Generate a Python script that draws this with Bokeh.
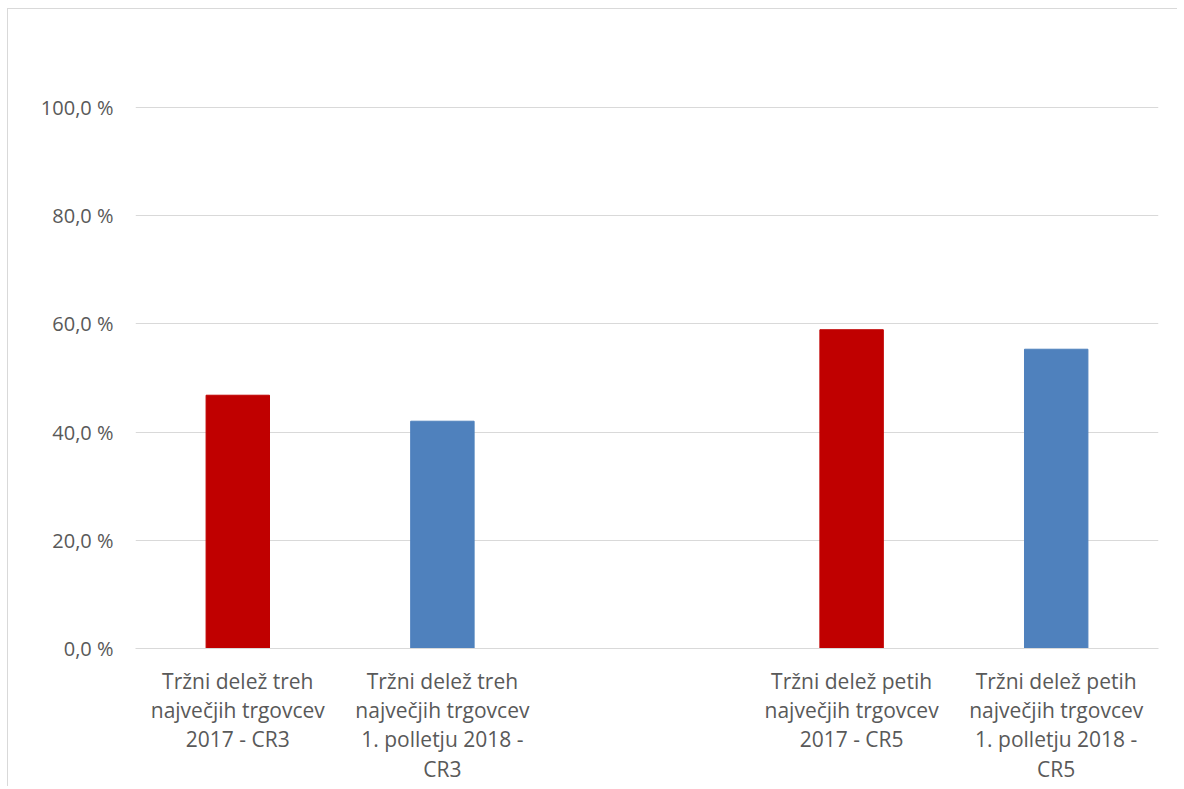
from bokeh.plotting import figure
from bokeh.models import FixedTicker, Range1d, FactorRange
from bokeh.embed import file_html
from bokeh.resources import INLINE

categories = [
    "Tržni delež treh\nnajvečjih trgovcev\n2017 - CR3",
    "Tržni delež treh\nnajvečjih trgovcev\n1. polletju 2018 -\nCR3",
    " ",
    "Tržni delež petih\nnajvečjih trgovcev\n2017 - CR5",
    "Tržni delež petih\nnajvečjih trgovcev\n1. polletju 2018 -\nCR5",
]
bar_categories = [categories[0], categories[1], categories[3], categories[4]]
values = [46.8, 42.0, 58.9, 55.3]
bar_colors = ["#C00000", "#4F81BD", "#C00000", "#4F81BD"]
y_ticks = [0, 20, 40, 60, 80, 100]
y_tick_labels = ["0,0 %", "20,0 %", "40,0 %", "60,0 %", "80,0 %", "100,0 %"]

p = figure(
    x_range=FactorRange(*categories, range_padding=0),
    y_range=Range1d(0, 102),
    width=1170, height=778,
    output_backend="svg", toolbar_location=None,
    min_border_left=127, min_border_right=20, min_border_top=87, min_border_bottom=139,
)
p.styles = {
    "margin-left": "7px", "margin-top": "8px",
    "border-left": "1px solid #D9D9D9", "border-top": "1px solid #D9D9D9",
}
p.outline_line_color = None
p.background_fill_color = "white"
p.border_fill_color = "white"

p.vbar(x=bar_categories, top=values, width=0.31, color=bar_colors)

p.xgrid.grid_line_color = None
p.ygrid.grid_line_color = "#D9D9D9"
p.ygrid.grid_line_width = 1

p.yaxis.ticker = FixedTicker(ticks=y_ticks)
p.yaxis.major_label_overrides = {t: l for t, l in zip(y_ticks, y_tick_labels)}
p.yaxis.axis_line_color = None
p.yaxis.major_tick_line_color = None
p.yaxis.minor_tick_line_color = None
p.yaxis.major_label_text_font = "Open Sans"
p.yaxis.major_label_text_font_size = "20px"
p.yaxis.major_label_text_color = "#595959"
p.yaxis.major_label_standoff = 16

p.xaxis.axis_line_color = "#D9D9D9"
p.xaxis.major_tick_line_color = None
p.xaxis.minor_tick_line_color = None
p.xaxis.major_label_text_font = "Open Sans"
p.xaxis.major_label_text_font_size = "21px"
p.xaxis.major_label_text_color = "#595959"
p.xaxis.major_label_text_line_height = 1.05
p.xaxis.major_label_standoff = 12
p.xaxis.major_label_orientation = "horizontal"

open("out.html", "w").write(file_html(p, INLINE))
